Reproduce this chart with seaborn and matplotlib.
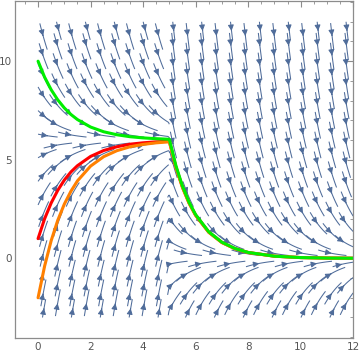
import numpy as np
import pandas as pd
import matplotlib
matplotlib.use("Agg")
import matplotlib.pyplot as plt
from matplotlib.ticker import MultipleLocator
import seaborn as sns

sns.set_style("white")
plt.rcParams['font.family'] = ['DejaVu Sans']

# solution curves
t_vals = [0, 0.25, 0.5, 0.75, 1, 1.25, 1.5, 2, 2.5, 3, 3.5, 4, 4.5, 5,
          5.25, 5.5, 5.75, 6, 6.5, 7, 7.5, 8, 9, 10, 11, 12]
green_vals = [10, 9.19, 8.55, 8.04, 7.63, 7.30, 7.04, 6.66, 6.42, 6.27, 6.17, 6.11, 6.07, 6.04,
              4.70, 3.66, 2.85, 2.22, 1.35, 0.82, 0.50, 0.30, 0.11, 0.04, 0.015, 0.006]
red_vals = [1, 2.01, 2.81, 3.45, 3.97, 4.38, 4.70, 5.17, 5.47, 5.66, 5.79, 5.86, 5.91, 5.94,
            4.63, 3.61, 2.81, 2.19, 1.33, 0.81, 0.49, 0.30, 0.11, 0.04, 0.015, 0.006]
orange_vals = [-2, -0.39, 0.90, 1.93, 2.75, 3.40, 3.93, 4.68, 5.16, 5.46, 5.66, 5.78, 5.86, 5.91,
               4.61, 3.59, 2.80, 2.18, 1.32, 0.80, 0.49, 0.29, 0.11, 0.04, 0.015, 0.006]

# field: relax towards 6 before the switch, towards 0 after it
switch_t = 5
target_before = 6
rate_before = 0.9
rate_after = 1.0

stream_color = "#4f6c9a"
frame_color = "#8c8c8c"

fig = plt.figure(figsize=(3.6, 3.56), dpi=100)
ax = fig.add_axes([0.043, 0.05, 0.938, 0.947])

tg = np.linspace(0, 12, 481)
xg = np.linspace(-3, 12, 481)
T, X = np.meshgrid(tg, xg)
U = np.ones_like(T)
V = np.where(T < switch_t, rate_before * (target_before - X), -rate_after * X)

# staggered seed lattice, one short arrowed segment per seed
seeds = []
for i, xs in enumerate(np.arange(-2.75, 12.0, 0.5)):
    off = 0.0 if i % 2 == 0 else 0.55
    for ts in np.arange(0.2 + off, 12.0, 1.1):
        seeds.append((ts, xs))
seeds = np.array(seeds)
ax.streamplot(T, X, U, V, start_points=seeds, density=8, color=stream_color, linewidth=0.75,
              arrowsize=0.85, broken_streamlines=False, maxlength=0.095, minlength=0.005)

curves = pd.DataFrame({
    "t": t_vals * 3,
    "x": red_vals + orange_vals + green_vals,
    "curve": ["red"] * len(t_vals) + ["orange"] * len(t_vals) + ["green"] * len(t_vals),
})
sns.lineplot(data=curves, x="t", y="x", hue="curve", sort=False, estimator=None,
             palette={"red": "#ff0000", "orange": "#ff8000", "green": "#00ee00"},
             linewidth=2.2, legend=False, ax=ax)

ax.set_xlim(-0.86, 12)
ax.set_ylim(-4.05, 13.05)
ax.set_xlabel("")
ax.set_ylabel("")
ax.xaxis.set_major_locator(MultipleLocator(2))
ax.xaxis.set_minor_locator(MultipleLocator(0.5))
ax.yaxis.set_major_locator(MultipleLocator(5))
ax.yaxis.set_minor_locator(MultipleLocator(1))
ax.tick_params(which="both", direction="in", top=True, right=True, color=frame_color,
               labelcolor="#555555", labelsize=7.5, pad=2.5)
ax.tick_params(which="major", length=4, width=0.8)
ax.tick_params(which="minor", length=2.5, width=0.6)
for s in ax.spines.values():
    s.set_color(frame_color)
    s.set_linewidth(0.9)

fig.savefig("out.png", dpi=100)
